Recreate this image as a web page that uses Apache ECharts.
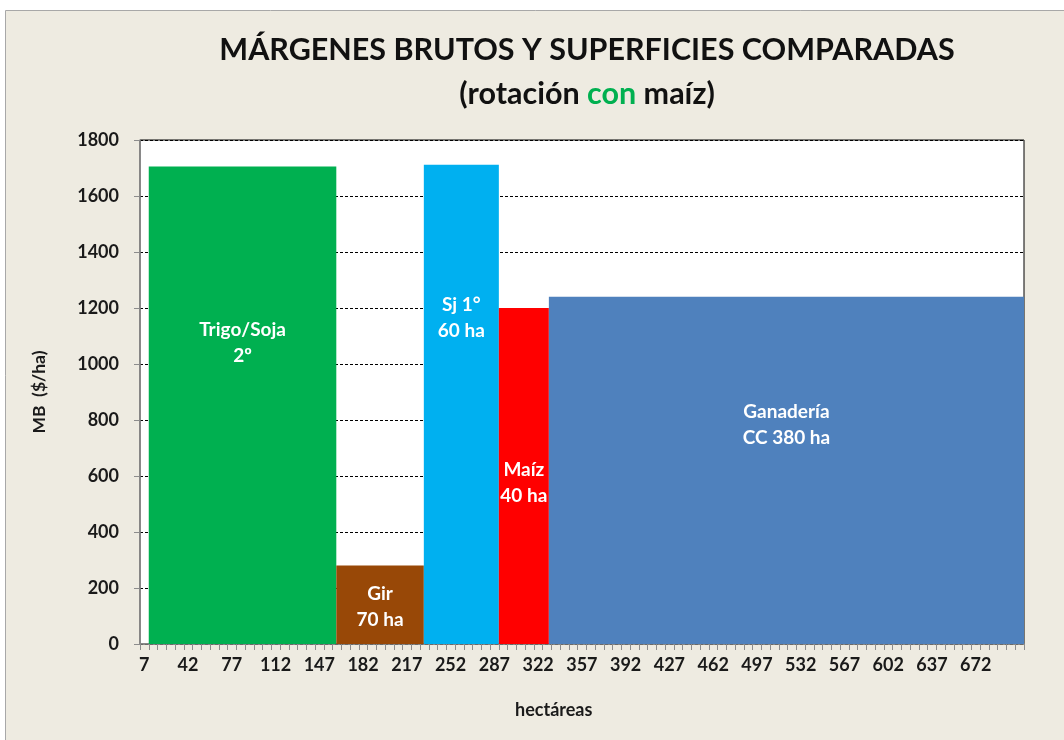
<!DOCTYPE html>
<html>
<head>
<meta charset="utf-8">
<script src="https://cdn.jsdelivr.net/npm/echarts@6/dist/echarts.min.js"></script>
<style>
  html, body { margin: 0; padding: 0; background: #ffffff; }
  #chart { width: 1064px; height: 740px; }
</style>
</head>
<body>
<div id="chart"></div>
<script>
// Activities of the rotation, in order along the hectare axis
const activities = ['Trigo/Soja', 'Gir', 'Sj 1°', 'Maíz', 'Ganadería'];
// Text written inside each block
const blockLabels = ['Trigo/Soja\n2º', 'Gir\n70 ha', 'Sj 1°\n60 ha', 'Maíz\n40 ha', 'Ganadería\nCC 380 ha'];
// Surface of each activity (ha) -> block width
const hectares = [150, 70, 60, 40, 380];
// Gross margin of each activity ($/ha) -> block height
const margins = [1705, 280, 1712, 1200, 1240];
const blockColors = ['#00B050', '#984807', '#00B0F0', '#FF0000', '#4F81BD'];
// First hectare where the blocks begin
const firstHectare = 7;
// Hectare axis: tick labels every 35 ha, minor ticks every 7 ha
const xLabelValues = [7, 42, 77, 112, 147, 182, 217, 252, 287, 322, 357, 392, 427, 462, 497, 532, 567, 602, 637, 672];
const xTickValues = [];
for (let h = 0; h <= 707; h += 7) xTickValues.push(h);

// Height (as share of the block) at which each label sits
const labelLift = [0.63, 0.47, 0.68, 0.48, 0.63];

// Build [start, end, margin, index] rows from the widths
const blocks = [];
let cursor = firstHectare;
hectares.forEach((w, i) => {
  blocks.push([cursor, cursor + w, margins[i], i]);
  cursor += w;
});
const axisEnd = cursor;

const FONT = 'Lato';
const chart = echarts.init(document.getElementById('chart'));

chart.setOption({
  backgroundColor: '#ffffff',
  animation: false,
  graphic: [{
    type: 'rect',
    z: -10,
    shape: { x: 5.5, y: 10.5, width: 1070, height: 740 },
    style: { fill: '#EEEBE1', stroke: '#A8A8A8', lineWidth: 1 }
  }, {
    type: 'text',
    left: 515, top: 701,
    style: {
      text: 'hectáreas', fill: '#1a1a1a',
      font: 'bold 18px ' + FONT, textAlign: 'center'
    }
  }],
  title: {
    left: 582,
    top: 23,
    textAlign: 'center',
    text: '{t|MÁRGENES BRUTOS Y SUPERFICIES COMPARADAS}\n{s|(rotación }{g|con}{s| maíz)}',
    textStyle: {
      rich: {
        t: { fontFamily: FONT, fontWeight: 'bold', fontSize: 30.5, color: '#111', lineHeight: 44 },
        s: { fontFamily: FONT, fontWeight: 'bold', fontSize: 30.5, color: '#111', lineHeight: 44 },
        g: { fontFamily: FONT, fontWeight: 'bold', fontSize: 30.5, color: '#00B050', lineHeight: 44 }
      }
    }
  },
  grid: {
    left: 140, right: 40, top: 140, bottom: 96,
    show: true, backgroundColor: '#ffffff', borderColor: '#000000', borderWidth: 1
  },
  xAxis: {
    type: 'value',
    min: 0,
    max: axisEnd,
    axisLine: { show: true, lineStyle: { color: '#8c8c8c', width: 1.5 } },
    axisTick: { show: true, customValues: xTickValues, length: 6, inside: false, lineStyle: { color: '#8c8c8c' } },
    axisLabel: {
      customValues: xLabelValues,
      margin: 12,
      color: '#1a1a1a', fontFamily: FONT, fontWeight: 'bold', fontSize: 18,
      padding: [0, 9, 0, 0],
      formatter: (v) => String(v)
    },
    splitLine: { show: false }
  },
  yAxis: {
    type: 'value',
    min: 0, max: 1800, interval: 200,
    name: 'MB  ($/ha)',
    nameLocation: 'middle',
    nameGap: 92,
    nameRotate: 90,
    nameTextStyle: { color: '#1a1a1a', fontFamily: FONT, fontWeight: 'bold', fontSize: 17.5 },
    axisLine: { show: true, lineStyle: { color: '#8c8c8c', width: 1.5 } },
    axisTick: { show: true, length: 6, lineStyle: { color: '#8c8c8c' } },
    axisLabel: {
      margin: 21,
      color: '#1a1a1a', fontFamily: FONT, fontWeight: 'bold', fontSize: 18,
      formatter: (v) => String(v)
    },
    splitLine: { show: true, lineStyle: { color: '#000000', type: [3, 2], width: 1 } }
  },
  series: [{
    type: 'custom',
    name: 'MB',
    encode: { x: [0, 1], y: 2 },
    data: blocks,
    renderItem: function (params, api) {
      const i = api.value(3);
      const p0 = api.coord([api.value(0), 0]);
      const p1 = api.coord([api.value(1), api.value(2)]);
      const x = p0[0], y = p1[1], w = p1[0] - p0[0], h = p0[1] - p1[1];
      return {
        type: 'group',
        children: [{
          type: 'rect',
          shape: { x: x, y: y, width: w, height: h },
          style: { fill: blockColors[i] }
        }, {
          type: 'text',
          x: x + w / 2,
          y: p0[1] - h * labelLift[i],
          style: {
            text: blockLabels[i],
            fill: '#ffffff',
            font: 'bold 19px ' + FONT,
            lineHeight: 26,
            align: 'center',
            verticalAlign: 'middle'
          }
        }]
      };
    }
  }]
});
</script>
</body>
</html>
